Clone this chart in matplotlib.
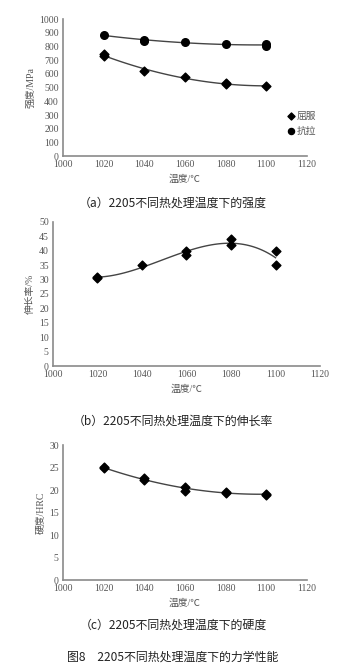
import matplotlib
matplotlib.use('Agg')
import matplotlib.pyplot as plt
import numpy as np

plt.rcParams['font.family'] = ['Liberation Serif', 'Noto Sans CJK SC']

# 温度 / ℃
temp_a = [1020, 1020, 1040, 1060, 1080, 1080, 1100]
yield_a = [745, 730, 620, 580, 530, 525, 510]
temp_t = [1020, 1040, 1040, 1060, 1080, 1100, 1100]
tensile = [885, 850, 840, 830, 820, 815, 805]

temp_b = [1020, 1020, 1040, 1060, 1060, 1080, 1080, 1100, 1100]
elong = [31, 30.5, 35, 40, 38.5, 44, 42, 40, 35]

temp_c = [1020, 1020, 1040, 1040, 1060, 1060, 1080, 1080, 1100, 1100]
hard = [25.1, 24.8, 22.6, 22.3, 20.7, 19.8, 19.6, 19.3, 19.2, 18.9]

xticks = [1000, 1020, 1040, 1060, 1080, 1100, 1120]

captions = ['（a）2205不同热处理温度下的强度',
            '（b）2205不同热处理温度下的伸长率',
            '（c）2205不同热处理温度下的硬度']
fig_title = '图8　2205不同热处理温度下的力学性能'

grey = '#8a8a8a'
tickc = '#555555'
cjk = ['Noto Sans CJK SC', 'DejaVu Sans']


def style(ax, ylabel, ylim, yticks):
    ax.set_xlim(1000, 1120)
    ax.set_ylim(*ylim)
    ax.set_xticks(xticks)
    ax.set_yticks(yticks)
    for s in ['top', 'right']:
        ax.spines[s].set_visible(False)
    for s in ['left', 'bottom']:
        ax.spines[s].set_color(grey)
        ax.spines[s].set_linewidth(1.2)
    ax.tick_params(length=0, labelsize=7, colors=tickc, pad=3)
    ax.set_xlabel('温度/℃', fontsize=7, color=tickc, labelpad=4)
    ax.set_ylabel(ylabel, fontsize=7, color=tickc, labelpad=3)


def trend(ax, x, y, deg):
    p = np.polyfit(x, y, deg)
    xs = np.linspace(min(x), max(x), 100)
    ax.plot(xs, np.polyval(p, xs), color='#444444', lw=1, zorder=1)


fig = plt.figure(figsize=(3.46, 6.70), dpi=100)

# (a)
ax1 = fig.add_axes([0.182, 0.767, 0.705, 0.2045])
trend(ax1, temp_a, yield_a, 2)
trend(ax1, temp_t, tensile, 2)
ax1.scatter(temp_a, yield_a, marker='D', s=20, color='black', zorder=3, label='屈服')
ax1.scatter(temp_t, tensile, marker='o', s=30, color='black', zorder=3, label='抗拉')
style(ax1, '强度/MPa', (0, 1000), range(0, 1001, 100))
ax1.legend(loc='center left', bbox_to_anchor=(0.9, 0.24), frameon=False,
           prop={'family': cjk, 'size': 7}, handletextpad=0.05,
           labelcolor=tickc, borderaxespad=0, handlelength=1, markerscale=0.8,
           labelspacing=0.5)

# (b)
ax2 = fig.add_axes([0.153, 0.4537, 0.772, 0.215])
trend(ax2, temp_b, elong, 3)
ax2.scatter(temp_b, elong, marker='D', s=20, color='black', zorder=3)
style(ax2, '伸长率/%', (0, 50), range(0, 51, 5))

# (c)
ax3 = fig.add_axes([0.182, 0.1343, 0.705, 0.2015])
trend(ax3, temp_c, hard, 2)
ax3.scatter(temp_c, hard, marker='D', s=20, color='black', zorder=3)
style(ax3, '硬度/HRC', (0, 30), range(0, 31, 5))

for y, t in zip([1 - 203 / 670, 1 - 421 / 670, 1 - 625 / 670], captions):
    fig.text(0.5, y, t, ha='center', va='center', fontsize=8.6, family=cjk, color='#222222')
fig.text(0.5, 1 - 657 / 670, fig_title, ha='center', va='center', fontsize=8.6,
         family=cjk, color='#222222')

fig.savefig('out.png', dpi=100, facecolor='white')
